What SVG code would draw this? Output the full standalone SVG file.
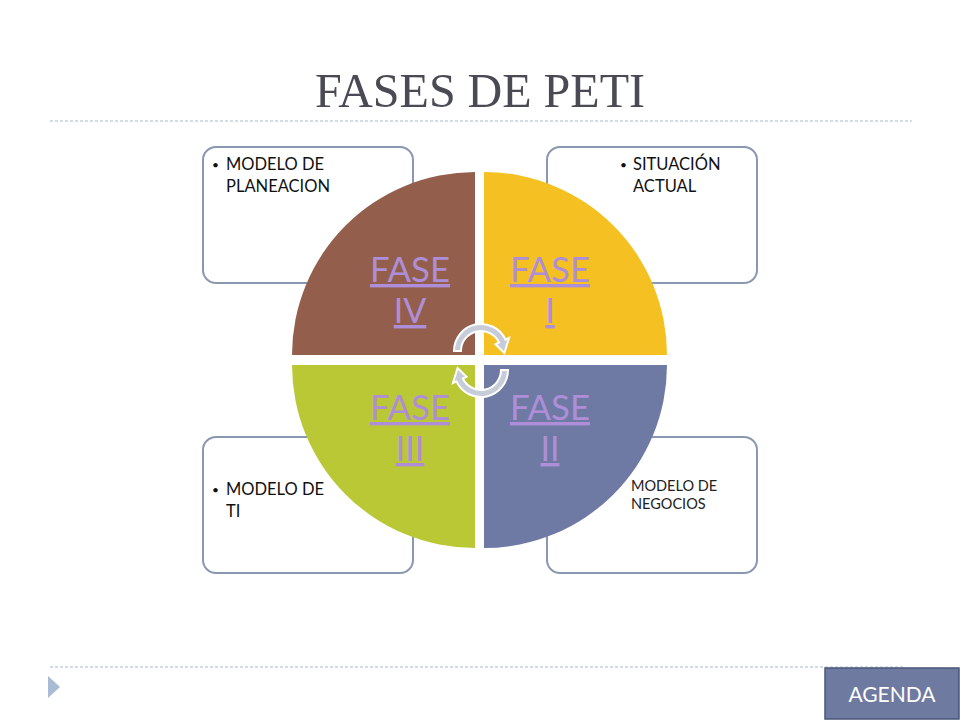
<svg xmlns="http://www.w3.org/2000/svg" width="960" height="720" viewBox="0 0 960 720">
<style>
.box{fill:#fff;stroke:#8A97B0;stroke-width:2}
.btxt{font-family:Lato,"Noto Sans",sans-serif;font-size:16.5px;fill:#111}
.bul{font-family:Lato,"Noto Sans",sans-serif;font-size:12px;fill:#111}
.stxt{font-family:Lato,"Noto Sans",sans-serif;font-size:14.5px;fill:#222}
.fase{font-family:Lato,"Noto Sans",sans-serif;font-size:34px;fill:#AE8ED9;text-decoration:underline;text-anchor:middle}
.dash{stroke:#A9BCCB;stroke-width:1.2;stroke-dasharray:3 2;fill:none}
.arc{fill:#C6CDD9;stroke:#fff;stroke-width:2}
</style>
<rect width="960" height="720" fill="#fff"/>
<g id="title">
<text x="480" y="107" text-anchor="middle" font-family="'Liberation Serif',serif" font-size="48" fill="#4A4A55" textLength="330" lengthAdjust="spacingAndGlyphs">FASES DE PETI</text>
</g>
<line class="dash" x1="50" y1="121" x2="912" y2="121"/>
<line class="dash" x1="50" y1="667" x2="905" y2="667"/>
<polygon points="48,676 60,687 48,698" fill="#A9BCD3"/>

<g id="box-planeacion">
<rect class="box" x="203" y="147" width="210" height="136" rx="13"/>
<text class="bul" x="212" y="169">•</text>
<text class="btxt" x="226" y="170">MODELO DE<tspan x="226" dy="22">PLANEACION</tspan></text>
</g>
<g id="box-situacion">
<rect class="box" x="547" y="147" width="210" height="136" rx="13"/>
<text class="bul" x="620" y="169">•</text>
<text class="btxt" x="633" y="170">SITUACIÓN<tspan x="633" dy="22">ACTUAL</tspan></text>
</g>
<g id="box-ti">
<rect class="box" x="203" y="437" width="210" height="136" rx="13"/>
<text class="bul" x="212" y="494">•</text>
<text class="btxt" x="226" y="495">MODELO DE<tspan x="226" dy="22">TI</tspan></text>
</g>
<g id="box-negocios">
<rect class="box" x="547" y="437" width="210" height="136" rx="13"/>
<text class="stxt" x="631" y="491">MODELO DE<tspan x="631" dy="18">NEGOCIOS</tspan></text>
</g>

<g id="fase-iv">
<path d="M475,355 L475,172 A183,183 0 0 0 292,355 Z" fill="#935E4B"/>
<text class="fase" x="410" y="282"><tspan x="410" textLength="80" lengthAdjust="spacingAndGlyphs">FASE</tspan><tspan x="410" dy="41">IV</tspan></text>
</g>
<g id="fase-i">
<path d="M484,355 L667,355 A183,183 0 0 0 484,172 Z" fill="#F5C021"/>
<text class="fase" x="550" y="282"><tspan x="550" textLength="80" lengthAdjust="spacingAndGlyphs">FASE</tspan><tspan x="550" dy="41">I</tspan></text>
</g>
<g id="fase-iii">
<path d="M475,365 L292,365 A183,183 0 0 0 475,548 Z" fill="#BBC836"/>
<text class="fase" x="410" y="420"><tspan x="410" textLength="80" lengthAdjust="spacingAndGlyphs">FASE</tspan><tspan x="410" dy="41">III</tspan></text>
</g>
<g id="fase-ii">
<path d="M484,365 L484,548 A183,183 0 0 0 667,365 Z" fill="#6E7AA3"/>
<text class="fase" x="550" y="420"><tspan x="550" textLength="80" lengthAdjust="spacingAndGlyphs">FASE</tspan><tspan x="550" dy="41">II</tspan></text>
</g>

<g id="connectors">
<path class="arc" d="M461,351 A20,20 0 0 1 499.1,342.5 L495.5,344.2 L504.4,353 L509.1,337.9 L505.5,339.6 A27,27 0 0 0 454,351 Z"/>
<path class="arc" d="M501,370 A20,20 0 0 1 462.9,378.5 L466.5,376.8 L457.6,368 L452.9,383.1 L456.5,381.4 A27,27 0 0 0 508,370 Z"/>
</g>

<g id="agenda">
<rect x="825" y="668" width="134" height="51" fill="#6F7AA0" stroke="#4A5578" stroke-width="1.5"/>
<text x="892" y="702" text-anchor="middle" font-family="Lato,'Noto Sans',sans-serif" font-size="21" fill="#fff">AGENDA</text>
</g>
</svg>
